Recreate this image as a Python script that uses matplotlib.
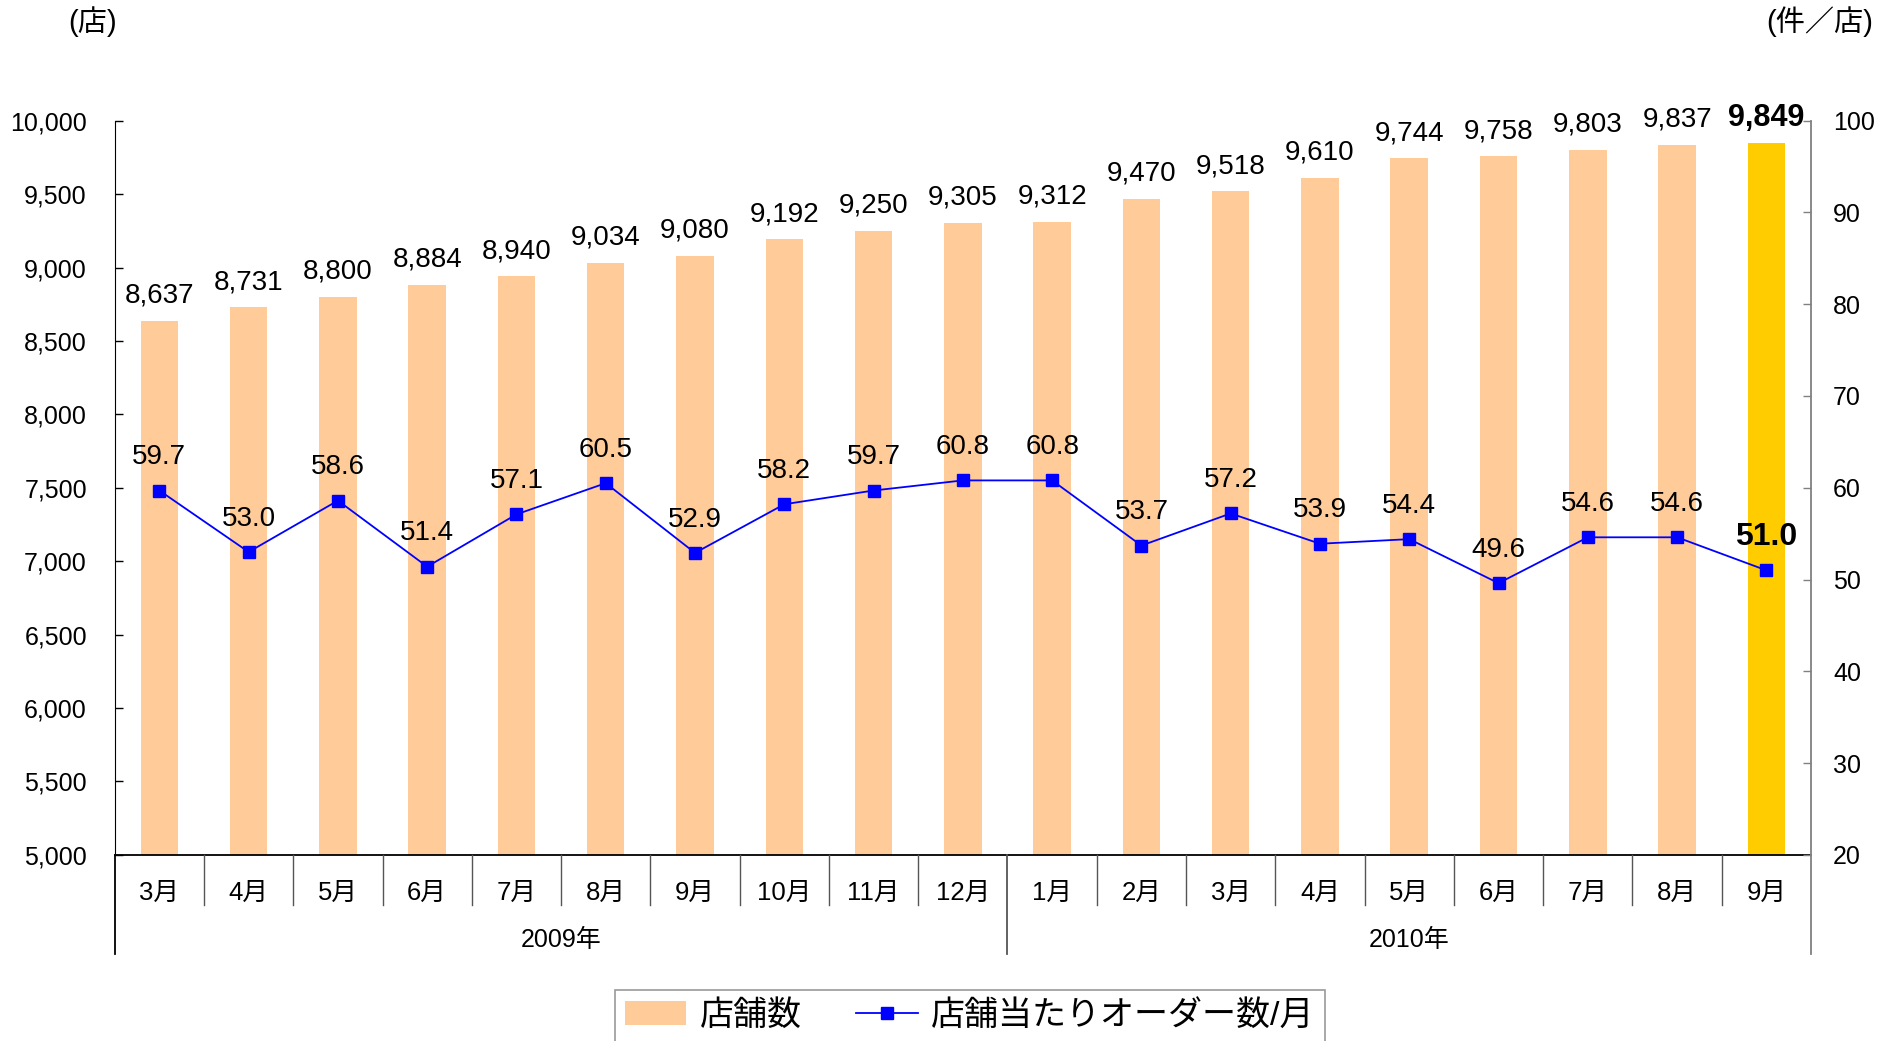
import matplotlib
matplotlib.use("Agg")
import matplotlib.pyplot as plt
from matplotlib.patches import Patch
from matplotlib.lines import Line2D
import matplotlib.transforms as mtransforms

plt.rcParams['font.family'] = ['Liberation Sans', 'Noto Sans CJK JP', 'DejaVu Sans']

months = ["3月", "4月", "5月", "6月", "7月", "8月", "9月", "10月", "11月", "12月",
          "1月", "2月", "3月", "4月", "5月", "6月", "7月", "8月", "9月"]
years = ["2009年", "2010年"]
year_counts = [10, 9]
stores = [8637, 8731, 8800, 8884, 8940, 9034, 9080, 9192, 9250, 9305,
          9312, 9470, 9518, 9610, 9744, 9758, 9803, 9837, 9849]
orders = [59.7, 53.0, 58.6, 51.4, 57.1, 60.5, 52.9, 58.2, 59.7, 60.8,
          60.8, 53.7, 57.2, 53.9, 54.4, 49.6, 54.6, 54.6, 51.0]
left_ticks = list(range(5000, 10001, 500))
right_ticks = list(range(20, 101, 10))

bar_color = "#FFCC99"
hi_color = "#FFCC00"
line_color = "#0000FF"

W, H = 1893, 1041
fig = plt.figure(figsize=(W / 100, H / 100), dpi=100)
L, R, T, B = 114.7, 1811, 120.7, 854.8
ax = fig.add_axes([L / W, 1 - B / H, (R - L) / W, (B - T) / H])

n = len(stores)
x = list(range(n))
colors = [bar_color] * (n - 1) + [hi_color]
ax.bar(x, [s - 5000 for s in stores], bottom=5000, width=0.42, color=colors, zorder=2)
ax.set_xlim(-0.5, n - 0.5)
ax.set_ylim(5000, 10000)
ax.set_yticks(left_ticks)
ax.set_yticklabels([f"{v:,}" for v in left_ticks])
ax.tick_params(axis='y', direction='in', length=6, width=1, labelsize=18, pad=20)
ax.set_xticks([])
for s in ['top', 'right']:
    ax.spines[s].set_visible(False)
ax.spines['left'].set_color('black')
ax.spines['bottom'].set_color('black')
ax.spines['bottom'].set_linewidth(1.3)

for i, v in enumerate(stores):
    last = (i == n - 1)
    ax.annotate(f"{v:,}", (i, v), xytext=(0, 18), textcoords='offset points',
                ha='center', va='center', fontsize=22 if last else 20,
                fontweight='bold' if last else 'normal', zorder=5)

ax2 = ax.twinx()
ax2.set_ylim(20, 100)
ax2.set_yticks(right_ticks)
ax2.tick_params(axis='y', direction='in', length=6, width=1, labelsize=18, pad=16,
                color='#808080')
for s in ['top', 'left', 'bottom']:
    ax2.spines[s].set_visible(False)
ax2.spines['right'].set_color('#808080')
ax2.spines['right'].set_linewidth(1.3)
ax2.plot(x, orders, color=line_color, lw=1.3, marker='s', markersize=8, zorder=4)
for i, v in enumerate(orders):
    last = (i == n - 1)
    ax2.annotate(f"{v:.1f}", (i, v), xytext=(0, 24), textcoords='offset points',
                 ha='center', va='center', fontsize=23 if last else 20,
                 fontweight='bold' if last else 'normal', zorder=5)

trans = mtransforms.blended_transform_factory(ax.transData, ax.transAxes)
y_short = -(905 - B) / (B - T)
y_long = -(954 - B) / (B - T)
y_month = -(893 - B) / (B - T)
y_year = -(940 - B) / (B - T)
bounds = [0]
for c in year_counts:
    bounds.append(bounds[-1] + c)
for i in range(n + 1):
    xb = i - 0.5
    is_long = i in bounds
    col = 'black' if i == 0 else ('#808080' if i == n else '#555555')
    ax.plot([xb, xb], [0, y_long if is_long else y_short], transform=trans,
            color=col, lw=1.3 if is_long else 1.0, clip_on=False, zorder=3)
for i, m in enumerate(months):
    ax.text(i, y_month, m, transform=trans, ha='center', va='center', fontsize=18.5)
for k, yl in enumerate(years):
    cx = (bounds[k] + bounds[k + 1] - 1) / 2
    ax.text(cx, y_year, yl, transform=trans, ha='center', va='center', fontsize=18)

fig.text(93 / W, 1 - 22 / H, "(店)", ha='center', va='center', fontsize=21)
fig.text(1820 / W, 1 - 22 / H, "(件／店)", ha='center', va='center', fontsize=21)

handles = [Patch(facecolor=bar_color, edgecolor='none'),
           Line2D([], [], color=line_color, lw=1.3, marker='s', markersize=9)]
labels = ["店舗数", "店舗当たりオーダー数/月"]
leg = fig.legend(handles, labels, loc='upper center', bbox_to_anchor=(970 / W, 1 - 990 / H),
                 ncol=2, frameon=True, fancybox=False, fontsize=24.5, handlelength=1.8,
                 handletextpad=0.4, columnspacing=1.6, borderpad=0.3, borderaxespad=0)
leg.get_frame().set_edgecolor('#808080')
leg.get_frame().set_linewidth(1.2)

fig.savefig("out.png", dpi=100, facecolor='white')
